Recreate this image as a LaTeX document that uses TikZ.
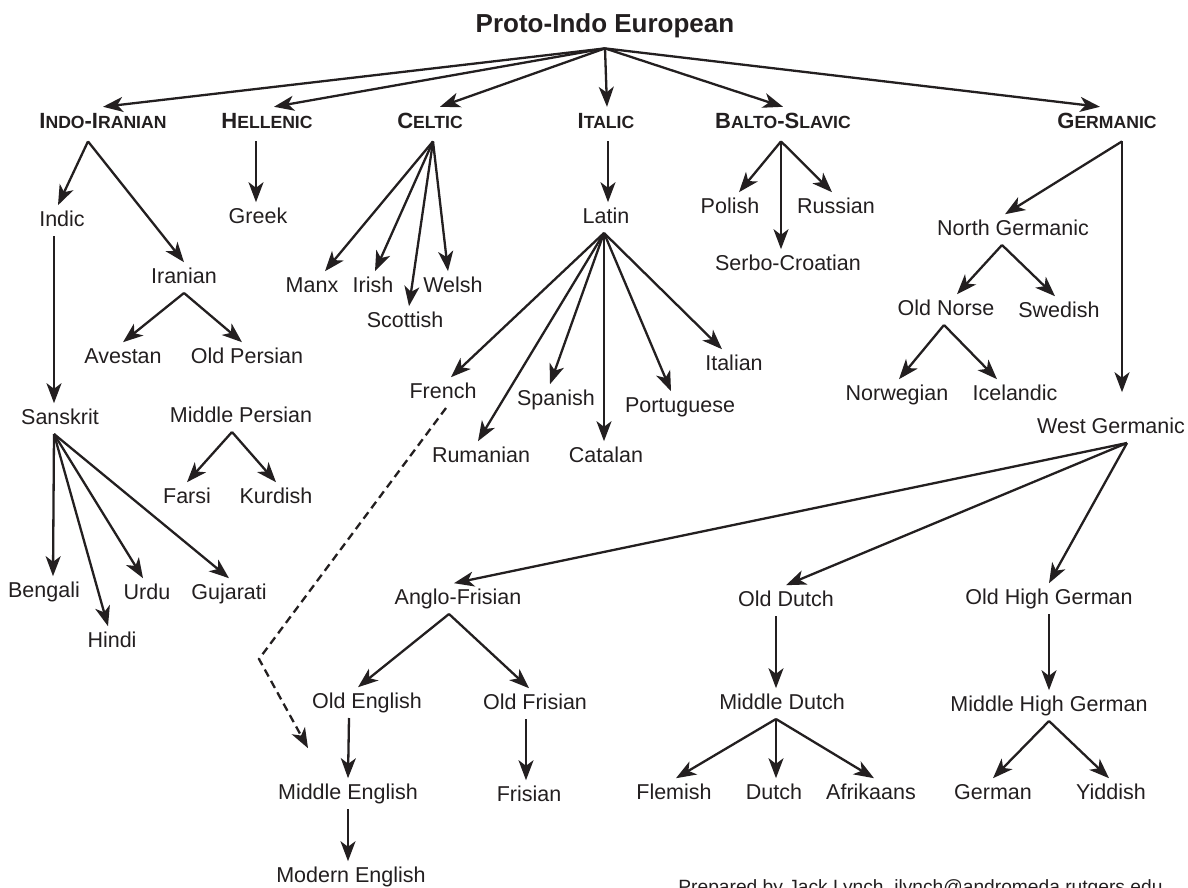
\documentclass[tikz,border=0pt]{standalone}
\usepackage{fontspec}
\setmainfont{Liberation Sans}
\usetikzlibrary{arrows.meta}
\definecolor{ink}{RGB}{35,31,32}
\newcommand{\smc}[1]{{\fontsize{8.8pt}{10pt}\selectfont #1}}

\begin{document}
\begin{tikzpicture}[x=0.5pt,y=-0.5pt,
  lang/.style={anchor=base,inner xsep=1pt,inner ysep=2.5pt,text height=7.7pt,text depth=2.3pt,
    font=\fontsize{10.75pt}{12pt}\selectfont,text=ink},
  family/.style={lang,text height=7.9pt,text depth=4pt,font=\bfseries\fontsize{11pt}{13pt}\selectfont},
  root/.style={anchor=base,inner ysep=7.5pt,text height=9.3pt,text depth=0pt,
    font=\bfseries\fontsize{13pt}{15pt}\selectfont,text=ink},
  branch/.style={draw=ink,line width=1.15pt,-{Stealth[length=10pt,width=7.5pt,inset=2.8pt]}},
  borrow/.style={branch,dash pattern=on 4pt off 2.5pt}]
\fill[white] (0,0) rectangle (1188,888);
\useasboundingbox (0,0) rectangle (1188,888);
% Drawing the root and the families
\node[root] (pie) at (605,33) {Proto-Indo European};
\node[family] (indoiranian) at (103,128) {I\smc{NDO}-I\smc{RANIAN}};
\node[family] (hellenic) at (267,128) {H\smc{ELLENIC}};
\node[family] (celtic) at (430,128) {C\smc{ELTIC}};
\node[family] (italic) at (606,128) {I\smc{TALIC}};
\node[family] (baltoslavic) at (783,128) {B\smc{ALTO}-S\smc{LAVIC}};
\node[family] (germanic) at (1107,128) {G\smc{ERMANIC}};
% Indo-Iranian
\node[lang] (indic) at (62,226) {Indic};
\node[lang] (iranian) at (184,283) {Iranian};
\node[lang] (avestan) at (123,363) {Avestan};
\node[lang] (oldpersian) at (247,363) {Old Persian};
\node[lang] (sanskrit) at (60,424) {Sanskrit};
\node[lang] (middlepersian) at (241,422) {Middle Persian};
\node[lang] (farsi) at (187,503) {Farsi};
\node[lang] (kurdish) at (276,503) {Kurdish};
\node[lang] (bengali) at (44,597) {Bengali};
\node[lang] (hindi) at (112,647) {Hindi};
\node[lang] (urdu) at (147,599) {Urdu};
\node[lang] (gujarati) at (229,599) {Gujarati};
% Hellenic and Celtic
\node[lang] (greek) at (258,223) {Greek};
\node[lang] (manx) at (312,292) {Manx};
\node[lang] (irish) at (373,292) {Irish};
\node[lang] (scottish) at (405,327) {Scottish};
\node[lang] (welsh) at (453,292) {Welsh};
% Italic
\node[lang] (latin) at (606,223) {Latin};
\node[lang] (french) at (443,398) {French};
\node[lang] (rumanian) at (481,462) {Rumanian};
\node[lang] (spanish) at (556,405) {Spanish};
\node[lang] (catalan) at (606,462) {Catalan};
\node[lang] (portuguese) at (680,412) {Portuguese};
\node[lang] (italian) at (734,370) {Italian};
% Balto-Slavic
\node[lang] (polish) at (730,213) {Polish};
\node[lang] (russian) at (836,213) {Russian};
\node[lang] (serbocroatian) at (788,270) {Serbo-Croatian};
% Germanic
\node[lang] (northgermanic) at (1013,235) {North Germanic};
\node[lang] (oldnorse) at (946,315) {Old Norse};
\node[lang] (swedish) at (1059,317) {Swedish};
\node[lang] (norwegian) at (897,400) {Norwegian};
\node[lang] (icelandic) at (1015,400) {Icelandic};
\node[lang] (westgermanic) at (1111,433) {West Germanic};
\node[lang] (anglofrisian) at (458,604) {Anglo-Frisian};
\node[lang] (olddutch) at (786,606) {Old Dutch};
\node[lang] (oldhighgerman) at (1049,604) {Old High German};
\node[lang] (oldenglish) at (367,708) {Old English};
\node[lang] (oldfrisian) at (535,709) {Old Frisian};
\node[lang] (middledutch) at (782,709) {Middle Dutch};
\node[lang] (middlehighgerman) at (1049,711) {Middle High German};
\node[lang] (middleenglish) at (348,799) {Middle English};
\node[lang] (frisian) at (529,801) {Frisian};
\node[lang] (flemish) at (674,799) {Flemish};
\node[lang] (dutch) at (774,799) {Dutch};
\node[lang] (afrikaans) at (871,799) {Afrikaans};
\node[lang] (german) at (993,799) {German};
\node[lang] (yiddish) at (1111,799) {Yiddish};
\node[lang] (modernenglish) at (351,882) {Modern English};
\node[anchor=base west,inner sep=0,font=\fontsize{9.6pt}{11pt}\selectfont,text=ink] (credit) at (678,893)
  {Prepared by Jack Lynch, jlynch@andromeda.rutgers.edu};
% Done with nodes; drawing branches
\draw[branch] (pie.south) -- (indoiranian.north);
\draw[branch] (pie.south) -- ([xshift=3.5pt]hellenic.north);
\draw[branch] (pie.south) -- ([xshift=5pt]celtic.north);
\draw[branch] (pie.south) -- ([xshift=0.5pt]italic.north);
\draw[branch] (pie.south) -- (baltoslavic.north);
\draw[branch] (pie.south) -- ([xshift=-3.5pt]germanic.north);
% Indo-Iranian
\draw[branch] ([xshift=-7.5pt]indoiranian.south) -- ([xshift=-2pt]indic.north);
\draw[branch] ([xshift=-7.5pt]indoiranian.south) -- (iranian.north);
\draw[branch] ([xshift=-4pt]indic.south) -- ([xshift=-3pt]sanskrit.north);
\draw[branch] (iranian.south) -- (avestan.north);
\draw[branch] (iranian.south) -- ([xshift=-2.5pt]oldpersian.north);
\draw[branch] ([xshift=-3pt]sanskrit.south) -- ([xshift=4.5pt]bengali.north);
\draw[branch] ([xshift=-3pt]sanskrit.south) -- ([xshift=-2pt]hindi.north);
\draw[branch] ([xshift=-3pt]sanskrit.south) -- ([xshift=-2pt]urdu.north);
\draw[branch] ([xshift=-3pt]sanskrit.south) -- (gujarati.north);
\draw[branch] ([xshift=-4.5pt]middlepersian.south) -- (farsi.north);
\draw[branch] ([xshift=-4.5pt]middlepersian.south) -- (kurdish.north);
% Hellenic and Celtic
\draw[branch] ([xshift=-5.5pt]hellenic.south) -- ([xshift=-1pt]greek.north);
\draw[branch] ([xshift=1.5pt]celtic.south) -- ([xshift=6.5pt]manx.north);
\draw[branch] ([xshift=1.5pt]celtic.south) -- ([xshift=1pt]irish.north);
\draw[branch] ([xshift=1.5pt]celtic.south) -- ([xshift=2pt]scottish.north);
\draw[branch] ([xshift=1.5pt]celtic.south) -- ([xshift=-2.5pt]welsh.north);
% Italic
\draw[branch] ([xshift=1pt]italic.south) -- ([xshift=1pt]latin.north);
\draw[branch] ([xshift=-1pt]latin.south) -- ([xshift=4pt]french.north);
\draw[branch] ([xshift=-1pt]latin.south) -- ([xshift=-1.5pt]rumanian.north);
\draw[branch] ([xshift=-1pt]latin.south) -- ([xshift=-3pt]spanish.north);
\draw[branch] ([xshift=-1pt]latin.south) -- ([xshift=-1pt]catalan.north);
\draw[branch] ([xshift=-1pt]latin.south) -- ([xshift=-4.5pt]portuguese.north);
\draw[branch] ([xshift=-1pt]latin.south) -- ([xshift=-6pt]italian.north);
% Balto-Slavic
\draw[branch] ([xshift=-1pt]baltoslavic.south) -- ([xshift=4.5pt]polish.north);
\draw[branch] ([xshift=-1pt]baltoslavic.south) -- ([xshift=-2pt]russian.north);
\draw[branch] ([xshift=-1pt]baltoslavic.south) -- ([xshift=-3.5pt]serbocroatian.north);
% Germanic
\draw[branch] ([xshift=7.5pt]germanic.south) -- ([xshift=-4pt]northgermanic.north);
\draw[branch,shorten >=10pt] ([xshift=7.5pt]germanic.south) -- ([xshift=5.5pt]westgermanic.north);
\draw[branch] ([xshift=-5.5pt]northgermanic.south) -- ([xshift=5.5pt]oldnorse.north);
\draw[branch] ([xshift=-5.5pt]northgermanic.south) -- ([xshift=-2pt]swedish.north);
\draw[branch] ([xshift=-1pt]oldnorse.south) -- ([xshift=1pt]norwegian.north);
\draw[branch] ([xshift=-1pt]oldnorse.south) -- ([xshift=-9pt]icelandic.north);
\draw[branch] ([xshift=8pt]westgermanic.south) -- ([xshift=-2pt]anglofrisian.north);
\draw[branch] ([xshift=8pt]westgermanic.south) -- (olddutch.north);
\draw[branch] ([xshift=8pt]westgermanic.south) -- (oldhighgerman.north);
\draw[branch] ([xshift=-4.5pt]anglofrisian.south) -- ([xshift=-4.5pt]oldenglish.north);
\draw[branch] ([xshift=-4.5pt]anglofrisian.south) -- ([xshift=-3pt]oldfrisian.north);
\draw[branch] ([xshift=-9pt]oldenglish.south) -- (middleenglish.north);
\draw[branch] (middleenglish.south) -- ([xshift=-1.5pt]modernenglish.north);
\draw[branch] ([xshift=-4.5pt]oldfrisian.south) -- ([xshift=-1.5pt]frisian.north);
\draw[branch] ([xshift=-5pt]olddutch.south) -- ([xshift=-3pt]middledutch.north);
\draw[branch] ([xshift=-3pt]middledutch.south) -- ([xshift=1pt]flemish.north);
\draw[branch] ([xshift=-3pt]middledutch.south) -- ([xshift=1pt]dutch.north);
\draw[branch] ([xshift=-3pt]middledutch.south) -- ([xshift=1.5pt]afrikaans.north);
\draw[branch] (oldhighgerman.south) -- (middlehighgerman.north);
\draw[branch] (middlehighgerman.south) -- (german.north);
\draw[branch] (middlehighgerman.south) -- ([xshift=-1pt]yiddish.north);
% French into Middle English
\coordinate (bend) at (259,659);
\draw[borrow] ([xshift=1.5pt]french.south) -- (bend) -- ([xshift=-20pt,yshift=15pt]middleenglish.north);
\end{tikzpicture}
\end{document}
